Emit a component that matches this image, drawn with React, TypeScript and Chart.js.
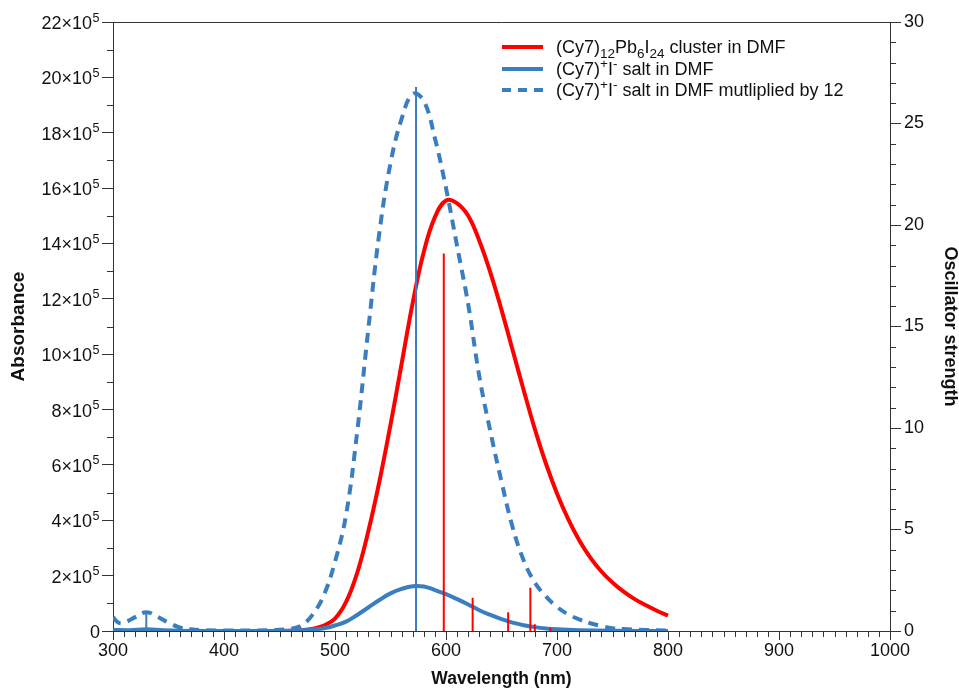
import React, { useEffect, useRef } from 'react';
import { Chart, registerables } from 'chart.js';

Chart.register(...registerables);

// ---------- data ----------
// Absorbance values are in units of 10^5
const clusterNm = [300, 350, 400, 440, 460, 470, 480, 490, 500, 510, 520, 530, 540, 550, 560, 570, 580, 590, 600, 610, 620, 630, 640, 650, 660, 670, 680, 690, 700, 710, 720, 730, 740, 750, 760, 770, 780, 790, 800];
const clusterAbs = [0, 0, 0, 0, 0.01, 0.03, 0.08, 0.2, 0.45, 1.05, 2.1, 3.6, 5.4, 7.45, 9.65, 11.85, 13.7, 14.95, 15.55, 15.45, 15.0, 14.1, 12.95, 11.6, 10.15, 8.7, 7.3, 6.05, 4.97, 4.05, 3.28, 2.65, 2.15, 1.75, 1.42, 1.15, 0.93, 0.73, 0.56];

const saltNm = [300, 315, 330, 345, 360, 380, 400, 440, 460, 480, 490, 500, 510, 520, 530, 540, 550, 560, 570, 580, 590, 600, 610, 620, 630, 640, 650, 660, 670, 680, 690, 700, 720, 750, 800];
const saltAbs = [0.04, 0.03, 0.06, 0.03, 0.01, 0.0, 0.0, 0.0, 0.01, 0.05, 0.1, 0.2, 0.34, 0.58, 0.85, 1.12, 1.36, 1.52, 1.62, 1.61, 1.48, 1.33, 1.15, 0.96, 0.75, 0.58, 0.43, 0.3, 0.21, 0.14, 0.09, 0.06, 0.03, 0.01, 0.0];

const salt12Nm = [300, 305, 310, 320, 330, 340, 350, 360, 370, 380, 400, 440, 460, 470, 480, 490, 500, 510, 520, 530, 540, 550, 560, 570, 580, 590, 600, 610, 620, 630, 640, 650, 660, 670, 680, 690, 700, 710, 720, 730, 740, 750, 760, 780, 800];
const salt12Abs = [0.5, 0.3, 0.3, 0.5, 0.68, 0.52, 0.3, 0.13, 0.06, 0.03, 0.02, 0.03, 0.08, 0.2, 0.6, 1.3, 2.5, 4.2, 7.2, 10.9, 14.4, 16.9, 18.5, 19.4, 19.15, 17.8, 16.0, 13.9, 11.8, 9.2, 7.2, 5.4, 3.75, 2.55, 1.75, 1.25, 0.87, 0.6, 0.42, 0.28, 0.18, 0.1, 0.07, 0.04, 0.02];

// Oscillator strengths (right axis)
const saltStickNm = [330, 573];
const saltStickF = [0.87, 26.8];
const clusterStickNm = [598, 624, 656, 676, 680, 694];
const clusterStickF = [18.6, 1.64, 0.92, 2.13, 0.33, 0.16];

// axes
const X_MIN = 300, X_MAX = 1000, X_MAJOR = 100, X_MINOR = 10;
const Y_MIN = 0, Y_MAX = 22, Y_MAJOR = 2, Y_MINOR = 1;
const Y2_MIN = 0, Y2_MAX = 30, Y2_MAJOR = 5, Y2_MINOR = 1;
const Y_EXPONENT = '5';

const xTitle = 'Wavelength (nm)';
const yTitle = 'Absorbance';
const y2Title = 'Oscillator strength';

// legend rich-text segments: [text, kind]
const legendEntries = [
  { key: 'cluster', segs: [['(Cy7)', 'n'], ['12', 'sub'], ['Pb', 'n'], ['6', 'sub'], ['I', 'n'], ['24', 'sub'], [' cluster in DMF', 'n']] },
  { key: 'salt', segs: [['(Cy7)', 'n'], ['+', 'sup'], ['I', 'n'], ['-', 'sup'], [' salt in DMF', 'n']] },
  { key: 'salt12', segs: [['(Cy7)', 'n'], ['+', 'sup'], ['I', 'n'], ['-', 'sup'], [' salt in DMF mutliplied by 12', 'n']] },
];

// ---------- styles ----------
const RED = '#ff0000';
const BLUE = '#3a7ebf';
const AXIS = '#333333';
const TEXT = '#111111';
const FONT = "'Liberation Sans', Arial, Helvetica, sans-serif";
const DASH = [10, 7];
const TICK_FONT = 18;

const styleByKey: Record<string, { color: string; dash: number[] }> = {
  cluster: { color: RED, dash: [] },
  salt: { color: BLUE, dash: [] },
  salt12: { color: BLUE, dash: [9, 7] },
};

function zipXY(xs: number[], ys: number[]) {
  return xs.map((x, i) => ({ x, y: ys[i] }));
}
function sticks(xs: number[], ys: number[]) {
  const out: { x: number; y: number | null }[] = [];
  xs.forEach((x, i) => {
    out.push({ x, y: 0 }, { x, y: ys[i] }, { x, y: null });
  });
  return out;
}

const minorTicksPlugin = {
  id: 'minorTicksFrame',
  afterDraw(chart: any) {
    const { ctx, chartArea: a, scales } = chart;
    const len = 6;
    ctx.save();
    ctx.strokeStyle = AXIS;
    ctx.lineWidth = 1;
    ctx.beginPath();
    ctx.moveTo(a.left, Math.round(a.top) + 0.5);
    ctx.lineTo(a.right, Math.round(a.top) + 0.5);
    for (let v = X_MIN; v <= X_MAX; v += X_MINOR) {
      if (v % X_MAJOR === 0) continue;
      const px = Math.round(scales.x.getPixelForValue(v)) + 0.5;
      ctx.moveTo(px, a.bottom);
      ctx.lineTo(px, a.bottom + len);
    }
    for (let v = Y_MIN; v <= Y_MAX; v += Y_MINOR) {
      if (v % Y_MAJOR === 0) continue;
      const py = Math.round(scales.y.getPixelForValue(v)) + 0.5;
      ctx.moveTo(a.left, py);
      ctx.lineTo(a.left - len, py);
    }
    for (let v = Y2_MIN; v <= Y2_MAX; v += Y2_MINOR) {
      if (v % Y2_MAJOR === 0) continue;
      const py = Math.round(scales.y2.getPixelForValue(v)) + 0.5;
      ctx.moveTo(a.right, py);
      ctx.lineTo(a.right + len, py);
    }
    ctx.stroke();

    // left axis labels with superscript exponent
    ctx.fillStyle = TEXT;
    ctx.textBaseline = 'alphabetic';
    ctx.textAlign = 'left';
    const right = a.left - 14;
    scales.y.ticks.forEach((t: any) => {
      const v = t.value;
      const py = scales.y.getPixelForValue(v);
      if (v === 0) {
        ctx.font = `${TICK_FONT}px ${FONT}`;
        const w = ctx.measureText('0').width;
        ctx.fillText('0', right - w + 1, py + 7);
        return;
      }
      const main = `${v}×10`;
      ctx.font = `${TICK_FONT * 0.7}px ${FONT}`;
      const ws = ctx.measureText(Y_EXPONENT).width;
      ctx.font = `${TICK_FONT}px ${FONT}`;
      const wm = ctx.measureText(main).width;
      const x0 = right - wm - ws;
      ctx.fillText(main, x0, py + 7);
      ctx.font = `${TICK_FONT * 0.7}px ${FONT}`;
      ctx.fillText(Y_EXPONENT, x0 + wm + 0.5, py - 0.5);
    });
    ctx.restore();
  },
};

const legendPlugin = {
  id: 'richLegend',
  afterDraw(chart: any) {
    const { ctx, chartArea: a } = chart;
    const size = 18;
    const lineX0 = a.left + 389;
    const lineX1 = a.left + 430;
    const textX = a.left + 443;
    const rows = [a.top + 25, a.top + 47, a.top + 68];
    ctx.save();
    legendEntries.forEach((e, i) => {
      const st = styleByKey[e.key];
      const y = rows[i];
      ctx.strokeStyle = st.color;
      ctx.lineWidth = 4;
      ctx.setLineDash(st.dash);
      ctx.beginPath();
      ctx.moveTo(lineX0, y);
      ctx.lineTo(lineX1, y);
      ctx.stroke();
      ctx.setLineDash([]);
      let x = textX;
      ctx.fillStyle = TEXT;
      ctx.textBaseline = 'alphabetic';
      const base = y + size * 0.36;
      e.segs.forEach(([t, kind]) => {
        let fs = size;
        let dy = 0;
        if (kind === 'sub') { fs = size * 0.75; dy = size * 0.26; }
        if (kind === 'sup') { fs = size * 0.75; dy = -size * 0.4; }
        ctx.font = `${fs}px ${FONT}`;
        ctx.fillText(t, x, base + dy);
        x += ctx.measureText(t).width;
      });
    });
    ctx.restore();
  },
};

export default function App() {
  const ref = useRef<HTMLCanvasElement | null>(null);

  useEffect(() => {
    if (!ref.current) return;
    const curve = (data: any, color: string, dash: number[], order: number) => ({
      type: 'line',
      data,
      borderColor: color,
      backgroundColor: color,
      borderWidth: 4,
      borderDash: dash,
      pointRadius: 0,
      tension: 0.4,
      fill: false,
      yAxisID: 'y',
      order,
    });
    const stick = (data: any, color: string, order: number) => ({
      type: 'line',
      data,
      borderColor: color,
      backgroundColor: color,
      borderWidth: 2,
      pointRadius: 0,
      spanGaps: false,
      tension: 0,
      fill: false,
      yAxisID: 'y2',
      order,
    });

    const chart = new Chart(ref.current, {
      type: 'line',
      data: {
        datasets: [
          stick(sticks(clusterStickNm, clusterStickF), RED, 0),
          stick(sticks(saltStickNm, saltStickF), BLUE, 1),
          curve(zipXY(salt12Nm, salt12Abs), BLUE, DASH, 2),
          curve(zipXY(saltNm, saltAbs), BLUE, [], 3),
          curve(zipXY(clusterNm, clusterAbs), RED, [], 4),
        ] as any,
      },
      options: {
        responsive: false,
        animation: false,
        events: [],
        layout: { padding: { top: 22, left: 0, right: 0, bottom: 0 } },
        plugins: { legend: { display: false }, tooltip: { enabled: false } },
        scales: {
          x: {
            type: 'linear',
            position: 'bottom',
            min: X_MIN,
            max: X_MAX,
            afterFit: (s: any) => { s.height = 58; },
            ticks: { stepSize: X_MAJOR, color: TEXT, font: { family: FONT, size: TICK_FONT }, padding: 0, maxRotation: 0, callback: (v: any) => String(v) },
            grid: { drawOnChartArea: false, drawTicks: true, tickLength: 9, tickColor: AXIS, color: AXIS },
            border: { display: true, color: AXIS, width: 1 },
            title: { display: true, text: xTitle, color: TEXT, font: { family: FONT, size: 17.5, weight: 'bold' }, padding: { top: 0, bottom: -1 } },
          },
          y: {
            type: 'linear',
            position: 'left',
            min: Y_MIN,
            max: Y_MAX,
            afterFit: (s: any) => { s.width = 113; },
            ticks: { stepSize: Y_MAJOR, display: false },
            grid: { drawOnChartArea: false, drawTicks: true, tickLength: 11, tickColor: AXIS, color: AXIS },
            border: { display: true, color: AXIS, width: 1 },
            title: { display: true, text: yTitle, color: TEXT, font: { family: FONT, size: 19, weight: 'bold' }, padding: { top: 7, bottom: 0 } },
          },
          y2: {
            type: 'linear',
            position: 'right',
            min: Y2_MIN,
            max: Y2_MAX,
            afterFit: (s: any) => { s.width = 69; },
            ticks: { stepSize: Y2_MAJOR, color: TEXT, font: { family: FONT, size: TICK_FONT }, padding: 3 },
            grid: { drawOnChartArea: false, drawTicks: true, tickLength: 11, tickColor: AXIS, color: AXIS },
            border: { display: true, color: AXIS, width: 1 },
            title: { display: true, text: y2Title, color: TEXT, font: { family: FONT, size: 18, weight: 'bold' }, padding: { top: -2, bottom: 0 } },
          },
        },
      } as any,
      plugins: [minorTicksPlugin, legendPlugin],
    });
    return () => chart.destroy();
  }, []);

  return (
    <div style={{ position: 'absolute', left: 0, top: 0, width: 959, height: 689, background: '#fff' }}>
      <canvas ref={ref} width={959} height={689} style={{ display: 'block' }} />
    </div>
  );
}
